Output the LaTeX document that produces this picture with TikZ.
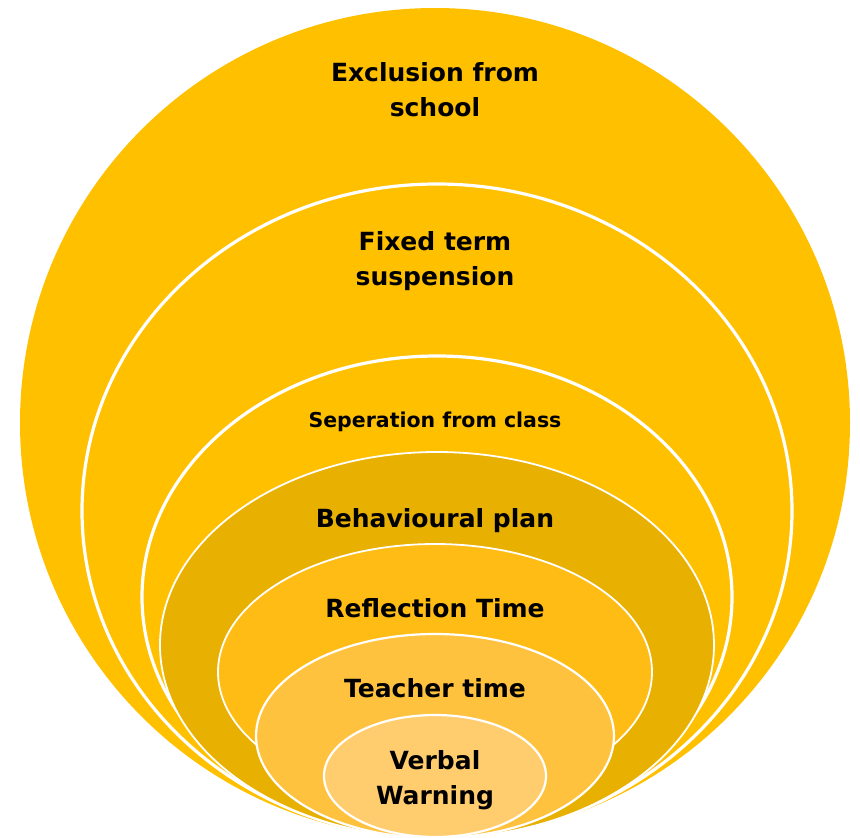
\documentclass[tikz,border=0pt]{standalone}
\usepackage{fontspec}
\setmainfont{DejaVu Sans}
\usepackage{tikz}
\usetikzlibrary{positioning}
\definecolor{outerGold}{RGB}{255,192,0}
\definecolor{planGold}{RGB}{232,176,0}
\definecolor{reflGold}{RGB}{255,188,20}
\definecolor{teachGold}{RGB}{255,194,62}
\definecolor{verbGold}{RGB}{255,204,110}
\tikzstyle{ring} = [draw=white, line width=3.2pt]
\tikzstyle{thinRing} = [ring, line width=1.8pt]
\tikzstyle{ringText} = [font=\bfseries\fontsize{25}{35}\selectfont, align=center, inner sep=0pt]
\tikzstyle{smallText} = [ringText, font=\bfseries\fontsize{20.5}{28}\selectfont]

\begin{document}
\begin{tikzpicture}[x=1pt, y=-1pt]
					\useasboundingbox (0,0) rectangle (860,838);
					% rings, outside in
					\fill[outerGold] (435,423) ellipse [x radius=415, y radius=415];
					\filldraw[ring, fill=outerGold] (437,511) ellipse [x radius=355, y radius=327];
					\filldraw[ring, fill=outerGold] (437,597) ellipse [x radius=295, y radius=241];
					\filldraw[thinRing, fill=planGold] (437,645) ellipse [x radius=277, y radius=193];
					\filldraw[thinRing, fill=reflGold] (435,672) ellipse [x radius=217, y radius=128];
					\filldraw[ring, line width=2.2pt, fill=teachGold] (435,736) ellipse [x radius=179, y radius=102];
					\filldraw[ring, line width=2.2pt, fill=verbGold] (435,776) ellipse [x radius=111, y radius=61];
					% texts
					\node (excl) [ringText] at (435,90) {Exclusion from\\school};
					\node (fixed) [ringText] at (435,261) {Fixed term\\suspension};
					\node (sep) [smallText] at (435,422) {Seperation from class};
					\node (plan) [ringText] at (435,521) {Behavioural plan};
					\node (refl) [ringText] at (435,608) {Reflection Time};
					\node (teach) [ringText] at (435,688) {Teacher time};
					\node (verbal) [ringText] at (435,780) {Verbal\\Warning};
\end{tikzpicture}
\end{document}
